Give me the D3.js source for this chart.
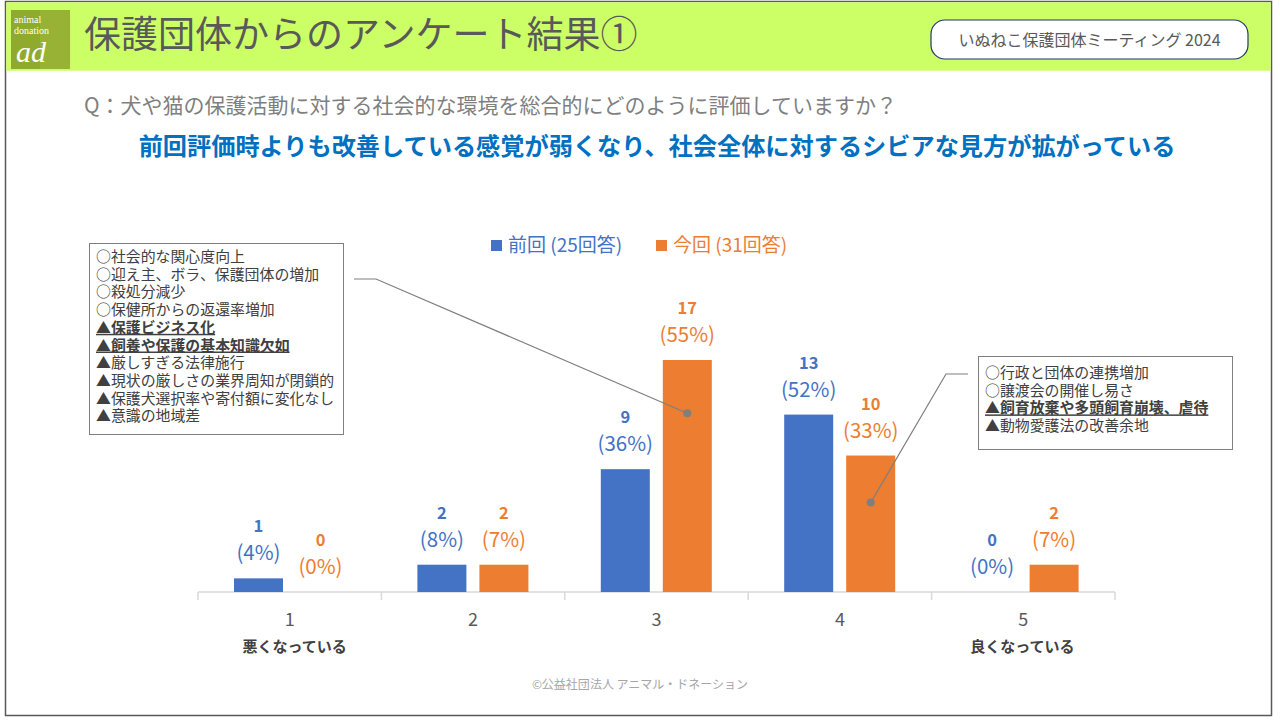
<!DOCTYPE html>
<html><head><meta charset="utf-8">
<script src="https://cdn.jsdelivr.net/npm/d3@7"></script>
<style>
html,body{margin:0;padding:0;background:#fff;}
svg{display:block;font-family:"Noto Sans CJK JP","Noto Sans",sans-serif;}
</style></head>
<body>
<svg id="chart" width="1280" height="720"></svg>
<script>
// ---- data ----
const categories = ["1", "2", "3", "4", "5"];
const categoryNotes = ["悪くなっている", "", "", "", "良くなっている"];
const seriesNames = ["前回 (25回答)", "今回 (31回答)"];
const prevCounts = [1, 2, 9, 13, 0];
const currCounts = [0, 2, 17, 10, 2];
const prevPercents = ["4%", "8%", "36%", "52%", "0%"];
const currPercents = ["0%", "7%", "55%", "33%", "7%"];
const leftNotes = [
  {t:"○社会的な関心度向上", b:false},
  {t:"○迎え主、ボラ、保護団体の増加", b:false},
  {t:"○殺処分減少", b:false},
  {t:"○保健所からの返還率増加", b:false},
  {t:"▲保護ビジネス化", b:true},
  {t:"▲飼養や保護の基本知識欠如", b:true},
  {t:"▲厳しすぎる法律施行", b:false},
  {t:"▲現状の厳しさの業界周知が閉鎖的", b:false},
  {t:"▲保護犬選択率や寄付額に変化なし", b:false},
  {t:"▲意識の地域差", b:false}
];
const rightNotes = [
  {t:"○行政と団体の連携増加", b:false},
  {t:"○譲渡会の開催し易さ", b:false},
  {t:"▲飼育放棄や多頭飼育崩壊、虐待", b:true},
  {t:"▲動物愛護法の改善余地", b:false}
];

const colors = ["#4472C4", "#ED7D31"];
const svg = d3.select("#chart");

// ---- frame & header ----
svg.append("rect").attr("x",5.5).attr("y",1.5).attr("width",1266).attr("height",714)
  .attr("fill","#fff").attr("stroke","#595959").attr("stroke-width",1.5);
svg.append("rect").attr("x",6.25).attr("y",2.25).attr("width",1264.5).attr("height",68.5)
  .attr("fill","#CCFF66");
// logo
const logo = svg.append("g");
logo.append("rect").attr("x",11).attr("y",10).attr("width",59).attr("height",59).attr("fill","#8FAA2C");
logo.append("rect").attr("x",40).attr("y",10).attr("width",30).attr("height",59).attr("fill","#9DB83A").attr("opacity",0.6);
logo.append("text").attr("x",14).attr("y",23).attr("fill","#fff").attr("font-size",10)
  .attr("font-family","Liberation Serif,serif").text("animal");
logo.append("text").attr("x",14).attr("y",34).attr("fill","#fff").attr("font-size",10)
  .attr("font-family","Liberation Serif,serif").text("donation");
logo.append("text").attr("x",16).attr("y",62).attr("fill","#fff").attr("font-size",30)
  .attr("font-style","italic").attr("font-family","Liberation Serif,serif").text("ad");

svg.append("text").attr("x",84).attr("y",48).attr("font-size",37).attr("fill","#595959")
  .text("保護団体からのアンケート結果①");

svg.append("rect").attr("x",931).attr("y",20).attr("width",317).attr("height",39).attr("rx",14)
  .attr("fill","#fff").attr("stroke","#1F3864").attr("stroke-width",1.2);
svg.append("text").attr("x",1089.5).attr("y",46).attr("text-anchor","middle").attr("font-size",16)
  .attr("fill","#595959").text("いぬねこ保護団体ミーティング 2024");

svg.append("text").attr("x",84).attr("y",113).attr("font-size",21).attr("fill","#7F7F7F")
  .text("Q：犬や猫の保護活動に対する社会的な環境を総合的にどのように評価していますか？");
svg.append("text").attr("x",657).attr("y",155).attr("text-anchor","middle").attr("font-size",24.2)
  .attr("font-weight","bold").attr("fill","#0070C0")
  .text("前回評価時よりも改善している感覚が弱くなり、社会全体に対するシビアな見方が拡がっている");

// ---- scales ----
const x0 = d3.scaleBand().domain(categories).range([198,1115]).paddingInner(0).paddingOuter(0);
const x1 = d3.scaleBand().domain([0,1]).range([36,147]).paddingInner(0.21).paddingOuter(0);
const y = d3.scaleLinear().domain([0,17]).range([592,360]);

// axis
const axisG = svg.append("g").attr("transform","translate(0,592)");
axisG.append("line").attr("x1",198).attr("x2",1115).attr("stroke","#D9D9D9").attr("stroke-width",1.5);
const tickXs = categories.map(c=>x0(c)).concat([x0.range()[1]]);
axisG.selectAll("line.tick").data(tickXs).join("line").attr("class","tick")
  .attr("x1",d=>d).attr("x2",d=>d).attr("y1",0).attr("y2",8).attr("stroke","#D9D9D9").attr("stroke-width",1.5);
svg.selectAll("text.cat").data(categories).join("text").attr("class","cat")
  .attr("x",d=>x0(d)+x0.bandwidth()/2).attr("y",626).attr("text-anchor","middle")
  .attr("font-size",18).attr("fill","#595959").text(d=>d);
svg.selectAll("text.note").data(categories.filter((d,i)=>categoryNotes[i])).join("text").attr("class","note")
  .attr("x",(d,i)=>x0(d)+x0.bandwidth()/2+(i===0?5:-1)).attr("y",652).attr("text-anchor","middle")
  .attr("font-size",15).attr("font-weight","bold").attr("fill","#404040")
  .text(d=>categoryNotes[categories.indexOf(d)]);

// bars
const series = [
  {counts: prevCounts, pcts: prevPercents},
  {counts: currCounts, pcts: currPercents}
];
series.forEach((s,si)=>{
  const g = svg.append("g");
  g.selectAll("rect").data(categories).join("rect")
    .attr("x",d=>x0(d)+x1(si)).attr("width",x1.bandwidth())
    .attr("y",(d,i)=>y(s.counts[i])).attr("height",(d,i)=>y(0)-y(s.counts[i]))
    .attr("fill",colors[si]);
  g.selectAll("text.cnt").data(categories).join("text").attr("class","cnt")
    .attr("x",d=>x0(d)+x1(si)+x1.bandwidth()/2).attr("y",(d,i)=>y(s.counts[i])-46)
    .attr("text-anchor","middle").attr("font-size",16.5).attr("font-weight","bold")
    .attr("fill",colors[si]).text((d,i)=>s.counts[i]);
  g.selectAll("text.pct").data(categories).join("text").attr("class","pct")
    .attr("x",d=>x0(d)+x1(si)+x1.bandwidth()/2).attr("y",(d,i)=>y(s.counts[i])-18)
    .attr("text-anchor","middle").attr("font-size",20.5)
    .attr("fill",colors[si]).text((d,i)=>"("+s.pcts[i]+")");
});

// legend
const leg = svg.append("g");
const legX = [491, 656];
seriesNames.forEach((n,i)=>{
  leg.append("rect").attr("x",legX[i]).attr("y",240).attr("width",11).attr("height",11).attr("fill",colors[i]);
  leg.append("text").attr("x",legX[i]+17).attr("y",252).attr("font-size",19).attr("fill",colors[i]).text(n);
});

// annotation boxes (one text block per box, lines as tspans)
function noteBox(x,yTop,w,h,lines,ty0){
  const g = svg.append("g");
  g.append("rect").attr("x",x+0.5).attr("y",yTop+0.5).attr("width",w).attr("height",h)
    .attr("fill","#fff").attr("stroke","#7F7F7F").attr("stroke-width",1);
  const t = g.append("text").attr("x",x+7).attr("y",ty0).attr("font-size",14.9).attr("fill","#404040");
  t.selectAll("tspan").data(lines).join("tspan")
    .attr("x",x+7).attr("dy",(d,i)=>i===0?0:17.7)
    .attr("font-weight",d=>d.b?"bold":"normal")
    .attr("text-decoration",d=>d.b?"underline":"none").text(d=>d.t);
}
noteBox(89,243,254,191,leftNotes,262);
noteBox(978,356,254,93,rightNotes,378);

// leader lines
function leader(pts, dot){
  svg.append("path").attr("d",d3.line()(pts)).attr("fill","none").attr("stroke","#7F7F7F").attr("stroke-width",1.2);
  svg.append("circle").attr("cx",dot[0]).attr("cy",dot[1]).attr("r",4).attr("fill","#7F7F7F");
}
const b3x = x0("3")+x1(1)+x1.bandwidth()/2;
leader([[354,279],[376,279],[b3x,y(13.1)]],[b3x,y(13.1)]);
const b4x = x0("4")+x1(1)+x1.bandwidth()/2;
leader([[968,374],[946,374],[b4x,y(6.55)]],[b4x,y(6.55)]);

// footer
svg.append("text").attr("x",640).attr("y",689).attr("text-anchor","middle").attr("font-size",12)
  .attr("fill","#A6A6A6").text("©公益社団法人 アニマル・ドネーション");
</script>
</body></html>
